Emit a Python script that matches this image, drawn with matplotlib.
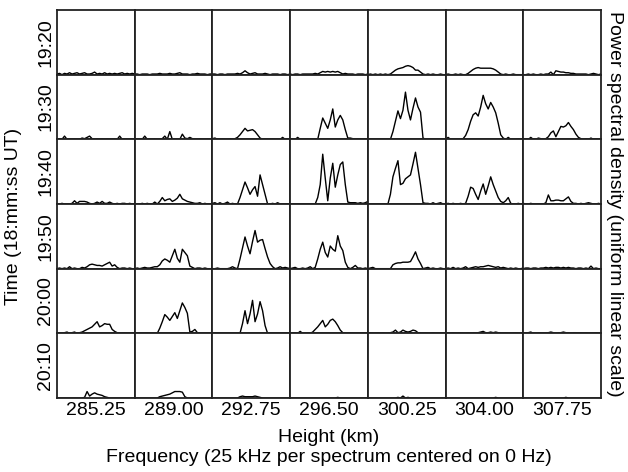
import matplotlib
matplotlib.use("Agg")
import matplotlib.pyplot as plt
import numpy as np

plt.rcParams['font.family'] = ['Liberation Sans', 'DejaVu Sans']

heights = ["285.25", "289.00", "292.75", "296.50", "300.25", "304.00", "307.75"]
times = ["19:20", "19:30", "19:40", "19:50", "20:00", "20:10"]

# Power spectra (32 frequency bins per spectrum), one list per time row, 7 heights each
psd_1920 = [
    [0.01,0.02,0.00,0.02,0.01,0.03,0.01,0.02, 0.03,0.01,0.02,0.03,0.01,0.01,0.02,0.04, 0.01,0.02,0.01,0.03,0.01,0.02,0.01,0.02, 0.01,0.02,0.03,0.01,0.02,0.01,0.02,0.01],
    [0.01,0.01,0.00,0.01,0.01,0.01,0.00,0.01, 0.01,0.01,0.02,0.01,0.01,0.01,0.02,0.01, 0.01,0.02,0.03,0.01,0.01,0.01,0.00,0.01, 0.01,0.02,0.01,0.01,0.01,0.00,0.01,0.01],
    [0.01,0.01,0.00,0.01,0.01,0.00,0.01,0.01, 0.01,0.01,0.02,0.01,0.03,0.06,0.03,0.01, 0.02,0.03,0.01,0.01,0.01,0.02,0.01,0.00, 0.01,0.01,0.01,0.00,0.01,0.01,0.00,0.01],
    [0.01,0.00,0.01,0.01,0.00,0.01,0.01,0.01, 0.01,0.01,0.02,0.01,0.03,0.05,0.04,0.05, 0.04,0.05,0.04,0.05,0.03,0.01,0.02,0.01, 0.01,0.01,0.00,0.01,0.01,0.01,0.00,0.01],
    [0.00,0.01,0.00,0.01,0.00,0.01,0.00,0.01, 0.00,0.01,0.04,0.07,0.09,0.10,0.11,0.13, 0.14,0.13,0.11,0.07,0.07,0.04,0.01,0.00, 0.01,0.00,0.01,0.00,0.00,0.01,0.00,0.00],
    [0.00,0.01,0.00,0.00,0.01,0.00,0.01,0.00, 0.00,0.02,0.05,0.08,0.10,0.11,0.10,0.10, 0.10,0.10,0.10,0.09,0.07,0.04,0.01,0.00, 0.01,0.00,0.00,0.01,0.00,0.00,0.00,0.00],
    [0.00,0.00,0.01,0.00,0.01,0.00,0.00,0.01, 0.00,0.01,0.01,0.04,0.00,0.06,0.05,0.04, 0.04,0.03,0.03,0.02,0.02,0.01,0.01,0.01, 0.01,0.01,0.00,0.01,0.02,0.01,0.00,0.01],
]
psd_1930 = [
    [0.00,0.01,0.00,0.05,0.00,0.01,0.00,0.01, 0.00,0.00,0.02,0.01,0.03,0.05,0.01,0.00, 0.01,0.00,0.01,0.00,0.01,0.00,0.00,0.01, 0.00,0.05,0.00,0.01,0.00,0.00,0.01,0.00],
    [0.00,0.01,0.00,0.00,0.05,0.00,0.01,0.00, 0.01,0.00,0.00,0.01,0.05,0.00,0.12,0.00, 0.01,0.00,0.00,0.08,0.02,0.01,0.03,0.01, 0.01,0.00,0.01,0.00,0.00,0.01,0.00,0.00],
    [0.01,0.02,0.00,0.00,0.01,0.00,0.00,0.01, 0.00,0.01,0.03,0.07,0.12,0.17,0.13,0.14, 0.15,0.12,0.07,0.02,0.00,0.01,0.00,0.00, 0.01,0.00,0.00,0.00,0.03,0.00,0.01,0.00],
    [0.00,0.01,0.00,0.03,0.00,0.00,0.01,0.00, 0.00,0.00,0.00,0.00,0.17,0.33,0.25,0.17, 0.30,0.47,0.19,0.30,0.37,0.30,0.15,0.02, 0.02,0.01,0.01,0.01,0.01,0.00,0.01,0.00],
    [0.00,0.00,0.00,0.00,0.00,0.00,0.00,0.00, 0.00,0.00,0.12,0.28,0.44,0.32,0.45,0.73, 0.45,0.30,0.48,0.64,0.50,0.42,0.02,0.00, 0.00,0.00,0.00,0.00,0.00,0.00,0.00,0.00],
    [0.00,0.03,0.00,0.00,0.00,0.00,0.00,0.01, 0.06,0.15,0.28,0.38,0.41,0.36,0.50,0.68, 0.55,0.47,0.57,0.50,0.41,0.25,0.07,0.02, 0.00,0.03,0.00,0.00,0.00,0.01,0.00,0.00],
    [0.00,0.01,0.00,0.03,0.00,0.00,0.02,0.01, 0.00,0.01,0.04,0.10,0.13,0.04,0.12,0.20, 0.19,0.21,0.26,0.20,0.15,0.08,0.03,0.01, 0.00,0.01,0.00,0.02,0.00,0.01,0.00,0.00],
]
psd_1940 = [
    [0.00,0.00,0.01,0.00,0.00,0.00,0.01,0.05, 0.01,0.04,0.04,0.04,0.03,0.01,0.00,0.01, 0.03,0.01,0.04,0.01,0.01,0.03,0.01,0.00, 0.01,0.00,0.01,0.01,0.00,0.01,0.00,0.00],
    [0.00,0.00,0.00,0.01,0.00,0.01,0.00,0.00, 0.03,0.00,0.04,0.10,0.05,0.07,0.08,0.04, 0.06,0.09,0.15,0.08,0.06,0.04,0.03,0.02, 0.01,0.01,0.02,0.00,0.01,0.00,0.00,0.00],
    [0.01,0.02,0.00,0.02,0.00,0.01,0.03,0.00, 0.01,0.00,0.00,0.10,0.22,0.34,0.25,0.15, 0.22,0.27,0.12,0.45,0.30,0.15,0.00,0.00, 0.01,0.00,0.02,0.00,0.00,0.00,0.00,0.00],
    [0.00,0.00,0.00,0.00,0.00,0.00,0.00,0.00, 0.00,0.00,0.00,0.10,0.30,0.77,0.40,0.05, 0.40,0.63,0.26,0.45,0.61,0.65,0.30,0.03, 0.02,0.02,0.02,0.01,0.02,0.01,0.02,0.04],
    [0.00,0.00,0.00,0.00,0.00,0.00,0.00,0.00, 0.00,0.15,0.42,0.55,0.67,0.30,0.32,0.39, 0.42,0.45,0.62,0.80,0.55,0.30,0.02,0.01, 0.01,0.00,0.02,0.00,0.01,0.02,0.00,0.00],
    [0.00,0.01,0.00,0.01,0.00,0.00,0.01,0.00, 0.01,0.12,0.26,0.24,0.15,0.07,0.20,0.31, 0.15,0.28,0.42,0.30,0.20,0.10,0.04,0.02, 0.05,0.10,0.01,0.00,0.00,0.01,0.00,0.00],
    [0.01,0.00,0.00,0.01,0.00,0.00,0.00,0.00, 0.00,0.02,0.14,0.05,0.05,0.06,0.06,0.05, 0.05,0.08,0.11,0.04,0.01,0.01,0.00,0.01, 0.00,0.01,0.02,0.01,0.00,0.00,0.01,0.00],
]
psd_1950 = [
    [0.00,0.01,0.00,0.01,0.00,0.03,0.00,0.01, 0.00,0.00,0.02,0.01,0.03,0.06,0.07,0.06, 0.05,0.05,0.04,0.06,0.08,0.10,0.04,0.06, 0.02,0.00,0.01,0.01,0.00,0.01,0.00,0.00],
    [0.00,0.01,0.00,0.01,0.02,0.01,0.01,0.02, 0.03,0.03,0.06,0.12,0.15,0.13,0.10,0.20, 0.30,0.16,0.10,0.30,0.25,0.20,0.04,0.02, 0.00,0.01,0.01,0.00,0.01,0.00,0.00,0.00],
    [0.00,0.00,0.01,0.00,0.00,0.00,0.00,0.01, 0.03,0.01,0.00,0.15,0.32,0.49,0.35,0.23, 0.42,0.59,0.41,0.44,0.45,0.31,0.18,0.08, 0.03,0.00,0.01,0.03,0.01,0.02,0.01,0.00],
    [0.00,0.01,0.02,0.00,0.00,0.01,0.00,0.01, 0.03,0.00,0.02,0.15,0.30,0.41,0.25,0.18, 0.35,0.30,0.27,0.51,0.35,0.28,0.10,0.02, 0.00,0.02,0.05,0.01,0.01,0.00,0.01,0.00],
    [0.00,0.01,0.02,0.00,0.00,0.00,0.00,0.00, 0.00,0.00,0.06,0.08,0.09,0.09,0.10,0.10, 0.10,0.11,0.18,0.26,0.15,0.08,0.00,0.01, 0.02,0.00,0.01,0.00,0.00,0.01,0.00,0.00],
    [0.00,0.01,0.00,0.02,0.00,0.01,0.00,0.01, 0.03,0.00,0.01,0.02,0.03,0.02,0.03,0.03, 0.04,0.05,0.04,0.03,0.02,0.03,0.01,0.02, 0.01,0.00,0.01,0.00,0.01,0.00,0.00,0.01],
    [0.00,0.01,0.01,0.00,0.01,0.01,0.00,0.01, 0.01,0.02,0.01,0.02,0.01,0.02,0.02,0.01, 0.02,0.01,0.02,0.01,0.01,0.00,0.01,0.01, 0.00,0.01,0.00,0.04,0.00,0.01,0.00,0.00],
]
psd_2000 = [
    [0.00,0.01,0.00,0.01,0.02,0.00,0.01,0.02, 0.00,0.01,0.02,0.04,0.06,0.08,0.10,0.14, 0.18,0.10,0.12,0.15,0.14,0.14,0.06,0.03, 0.01,0.00,0.00,0.01,0.00,0.00,0.00,0.00],
    [0.00,0.00,0.00,0.00,0.00,0.01,0.00,0.00, 0.00,0.00,0.08,0.18,0.29,0.25,0.20,0.26, 0.32,0.23,0.35,0.47,0.40,0.31,0.02,0.03, 0.06,0.01,0.00,0.00,0.00,0.00,0.00,0.00],
    [0.00,0.00,0.00,0.00,0.00,0.00,0.00,0.00, 0.00,0.00,0.00,0.00,0.15,0.35,0.15,0.30, 0.51,0.18,0.30,0.49,0.35,0.12,0.00,0.00, 0.00,0.00,0.00,0.00,0.00,0.00,0.00,0.00],
    [0.00,0.01,0.01,0.00,0.03,0.00,0.00,0.01, 0.00,0.02,0.06,0.10,0.15,0.20,0.10,0.14, 0.20,0.22,0.18,0.12,0.05,0.01,0.01,0.00, 0.01,0.00,0.00,0.00,0.00,0.00,0.00,0.00],
    [0.00,0.01,0.00,0.00,0.01,0.00,0.01,0.00, 0.00,0.01,0.02,0.05,0.01,0.02,0.05,0.03, 0.02,0.03,0.05,0.04,0.01,0.01,0.00,0.01, 0.00,0.00,0.01,0.00,0.00,0.00,0.00,0.00],
    [0.00,0.00,0.00,0.01,0.00,0.00,0.01,0.00, 0.00,0.01,0.00,0.01,0.01,0.01,0.02,0.03, 0.01,0.01,0.02,0.01,0.02,0.01,0.01,0.00, 0.01,0.00,0.00,0.00,0.01,0.00,0.00,0.00],
    [0.00,0.00,0.01,0.02,0.00,0.00,0.00,0.01, 0.00,0.01,0.01,0.02,0.01,0.00,0.01,0.01, 0.02,0.01,0.01,0.00,0.01,0.01,0.00,0.01, 0.00,0.01,0.00,0.00,0.00,0.01,0.00,0.00],
]
psd_2010 = [
    [0.00,0.00,0.00,0.00,0.00,0.00,0.00,0.00, 0.00,0.00,0.00,0.01,0.10,0.03,0.06,0.08, 0.06,0.05,0.04,0.02,0.01,0.00,0.00,0.00, 0.00,0.00,0.00,0.00,0.00,0.00,0.00,0.00],
    [0.00,0.00,0.00,0.00,0.00,0.00,0.00,0.00, 0.00,0.00,0.02,0.03,0.04,0.05,0.06,0.08, 0.10,0.10,0.10,0.09,0.02,0.00,0.00,0.00, 0.00,0.00,0.00,0.00,0.00,0.00,0.00,0.00],
    [0.00,0.00,0.00,0.00,0.00,0.00,0.00,0.00, 0.00,0.00,0.00,0.02,0.03,0.02,0.02,0.02, 0.02,0.03,0.02,0.01,0.00,0.00,0.00,0.00, 0.00,0.00,0.00,0.00,0.00,0.00,0.00,0.00],
    [0.00,0.00,0.00,0.00,0.00,0.00,0.00,0.00, 0.00,0.00,0.00,0.00,0.00,0.00,0.00,0.00, 0.00,0.00,0.00,0.01,0.00,0.00,0.00,0.00, 0.00,0.00,0.00,0.00,0.00,0.00,0.00,0.00],
    [0.00,0.00,0.00,0.00,0.00,0.00,0.00,0.00, 0.00,0.00,0.00,0.00,0.01,0.00,0.03,0.00, 0.01,0.00,0.00,0.00,0.00,0.00,0.00,0.00, 0.00,0.00,0.00,0.00,0.00,0.00,0.00,0.00],
    [0.00,0.00,0.00,0.00,0.00,0.00,0.00,0.00, 0.00,0.00,0.00,0.00,0.00,0.00,0.00,0.00, 0.00,0.00,0.00,0.00,0.01,0.00,0.00,0.00, 0.00,0.00,0.00,0.00,0.00,0.00,0.00,0.00],
    [0.00,0.00,0.00,0.00,0.00,0.00,0.00,0.00, 0.00,0.00,0.00,0.00,0.00,0.00,0.00,0.00, 0.00,0.01,0.00,0.00,0.00,0.00,0.00,0.00, 0.00,0.00,0.00,0.00,0.00,0.00,0.00,0.00],
]
psd_rows = [psd_1920, psd_1930, psd_1940, psd_1950, psd_2000, psd_2010]

fig = plt.figure(figsize=(6.28, 4.72), dpi=100)
nrows, ncols = len(times), len(heights)
gs = fig.add_gridspec(nrows, ncols, left=57/628, right=601/628,
                      top=1-10/472, bottom=1-398/472, wspace=0, hspace=0)

fs = 14
for r in range(nrows):
    for c in range(ncols):
        ax = fig.add_subplot(gs[r, c])
        y = np.asarray(psd_rows[r][c])
        x = np.arange(len(y))
        ax.plot(x, y, color='black', lw=1.0)
        ax.set_xlim(0, len(y) - 1)
        ax.set_ylim(0, 1)
        ax.set_xticks([])
        ax.set_yticks([])
        for s in ax.spines.values():
            s.set_linewidth(1.3)
            s.set_color('#222222')
        if c == 0:
            ax.set_ylabel(times[r], fontsize=fs, labelpad=2)
        if r == nrows - 1:
            ax.set_xlabel(heights[c], fontsize=fs, labelpad=3)

gx = (57 + 601) / 2 / 628
gy = 1 - 216 / 472
fig.text(gx, 1 - 437/472, "Height (km)", ha='center', va='center', fontsize=fs)
fig.text(gx, 1 - 458/472, "Frequency (25 kHz per spectrum centered on 0 Hz)",
         ha='center', va='center', fontsize=fs)
fig.text(14/628, gy, "Time (18:mm:ss UT)", rotation=90, ha='center', va='center', fontsize=fs)
fig.text(615/628, 1 - 204/472, "Power spectral density (uniform linear scale)", rotation=-90,
         ha='center', va='center', fontsize=fs)

fig.savefig("out.png", dpi=100)
